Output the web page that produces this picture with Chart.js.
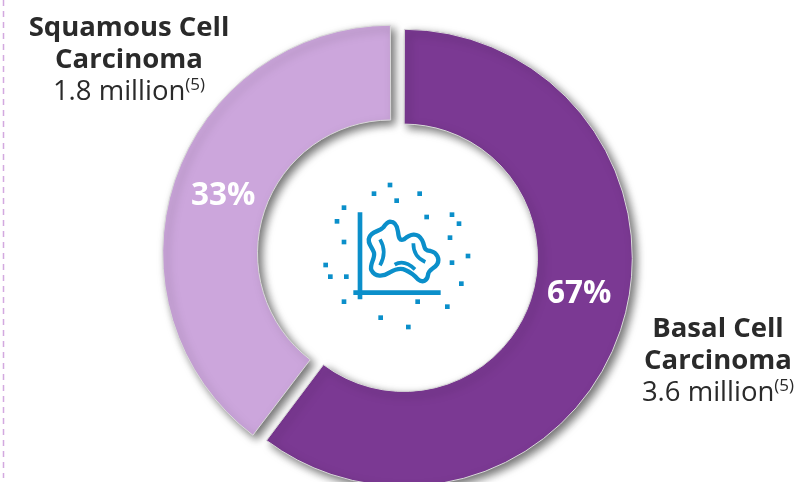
<!DOCTYPE html>
<html>
<head>
<meta charset="utf-8">
<script src="https://cdn.jsdelivr.net/npm/chart.js@4"></script>
<style>
  html, body { margin: 0; padding: 0; background: #fff; }
  #wrap { position: relative; width: 798px; height: 482px; overflow: hidden; font-family: "Open Sans", sans-serif; color: #2a2a2a; }
  #chart { position: absolute; left: 0; top: 0; }
  .label { position: absolute; text-align: center; font-size: 27.5px; line-height: 32px; white-space: nowrap; }
  .label b { font-weight: 700; font-size: 27.5px; }
  .label sup { font-size: 17px; line-height: 0; vertical-align: 10px; }
  svg { position: absolute; }
</style>
</head>
<body>
<div id="wrap">
  <canvas id="chart" width="798" height="482"></canvas>

  <svg style="left:0;top:0" width="10" height="482">
    <line x1="3.5" y1="0" x2="3.5" y2="478" stroke="#d3a9e0" stroke-width="1.5" stroke-dasharray="6 5"/>
  </svg>

  <!-- icone centrale, coordonnees en pixels du zoom x3 -->
  <svg id="icon" style="left:300px;top:160px" width="200" height="180" viewBox="0 0 600 540"></svg>

  <div class="label" style="left:0;top:10px;width:258px"><b>Squamous Cell<br>Carcinoma</b><br>1.8 million<sup>(5)</sup></div>
  <div class="label" style="left:638px;top:311px;width:160px"><b>Basal Cell<br>Carcinoma</b><br>3.6 million<sup>(5)</sup></div>
</div>

<script>
const categories = ['Basal Cell Carcinoma', 'Squamous Cell Carcinoma'];
// parts telles que dessinees sur l'image (l'anneau n'est pas a l'echelle des libelles)
const drawnShares = [60.3, 39.7];
const shareLabels = ['67%', '33%'];
const sliceColors = ['#7b3993', '#cca6dc'];

// angle (deg depuis le haut) et rayon des libelles %
const labelAngles = [101.7, 289];
const labelRadii = [183, 187];

const iconDots = [
  [270, 75], [222, 101], [359, 101], [290, 122], [132, 143], [380, 171], [456, 164], [477, 191],
  [111, 184], [450, 233], [132, 246], [504, 288], [456, 308], [77, 315], [91, 350], [139, 350],
  [484, 371], [132, 425], [353, 425], [442, 440], [242, 473], [325, 501],
];

function drawIcon() {
  const svg = document.getElementById('icon');
  const blue = '#0b8fca';
  let html = iconDots.map(d =>
    `<rect x="${d[0] - 7}" y="${d[1] - 7}" width="14" height="14" fill="${blue}"/>`).join('');
  html += `<path d="M180 157V418M160 398H422" stroke="${blue}" stroke-width="14" fill="none"/>`;
  html += `<path d="M270 185C285 185 292 200 294 215C296 232 298 244 312 238C330 222 352 216 366 240C376 258 368 272 392 273C412 278 420 298 412 312C402 328 386 326 384 345C382 362 368 370 354 358C340 342 330 336 316 330C300 322 282 330 268 338C250 350 225 352 214 330C208 312 226 296 222 278C216 260 200 248 208 232C216 212 238 216 250 202C256 194 262 186 270 185Z"
    stroke="${blue}" stroke-width="13" fill="none" stroke-linejoin="round"/>`;
  html += `<path d="M240 238C252 258 258 284 240 316M340 250C340 278 352 296 376 306M284 314C304 302 326 310 345 328"
    stroke="${blue}" stroke-width="11" fill="none"/>`;
  svg.innerHTML = html;
}

// ombre portee sous les secteurs
const sliceShadow = {
  id: 'sliceShadow',
  beforeDatasetDraw(chart) {
    const ctx = chart.ctx;
    ctx.save();
    ctx.shadowColor = 'rgba(0,0,0,.55)';
    ctx.shadowBlur = 8;
    ctx.shadowOffsetX = 4;
    ctx.shadowOffsetY = 4;
  },
  afterDatasetDraw(chart) {
    chart.ctx.restore();
  },
};

// libelles % dans l'anneau
const shareText = {
  id: 'shareText',
  afterDatasetsDraw(chart) {
    const ctx = chart.ctx;
    const arc = chart.getDatasetMeta(0).data[0];
    ctx.save();
    ctx.font = '700 31.5px "Open Sans"';
    ctx.fillStyle = '#fff';
    ctx.textAlign = 'center';
    ctx.textBaseline = 'middle';
    shareLabels.forEach((txt, i) => {
      const a = labelAngles[i] * Math.PI / 180;
      ctx.fillText(txt, arc.x + Math.sin(a) * labelRadii[i], arc.y - Math.cos(a) * labelRadii[i]);
    });
    ctx.restore();
  },
};

new Chart(document.getElementById('chart'), {
  type: 'doughnut',
  data: {
    labels: categories,
    datasets: [{
      data: drawnShares,
      backgroundColor: sliceColors,
      borderColor: '#d9d9d9',
      borderWidth: 1,
      offset: [16, 38],
    }],
  },
  options: {
    responsive: false,
    animation: false,
    radius: 224.5,
    cutout: 119,
    layout: { padding: { left: 5, right: 3, top: 31, bottom: 0 } },
    plugins: { legend: { display: false }, tooltip: { enabled: false } },
  },
  plugins: [sliceShadow, shareText],
});

drawIcon();
</script>
</body>
</html>
